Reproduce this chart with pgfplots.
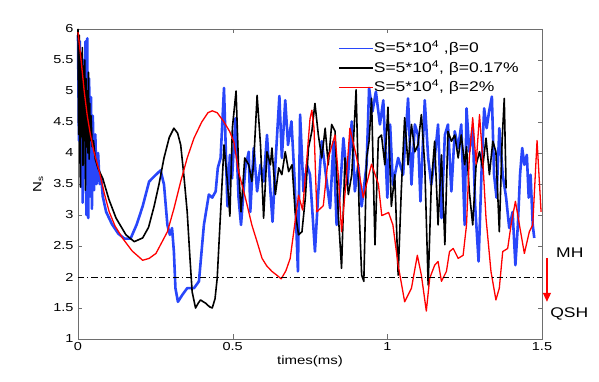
\documentclass[border=0pt]{standalone}
\usepackage{fontspec}
\setmainfont{Liberation Sans}[FakeStretch=1.25]
\usepackage{pgfplots}
\pgfplotsset{compat=1.18}
\usetikzlibrary{arrows.meta}
\definecolor{mblue}{RGB}{40,70,250}
\definecolor{mred}{RGB}{255,0,0}
\definecolor{axgray}{RGB}{110,110,110}
\begin{document}
\begin{tikzpicture}
\begin{axis}[
  name=ax,
  scale only axis, width=464pt, height=310pt,
  xmin=0, xmax=1.5, ymin=1, ymax=6,
  xtick={0,0.5,1,1.5}, ytick={1,1.5,...,6},
  tick align=inside, major tick length=4.5pt,
  axis line style={axgray}, tick style={axgray},
  /pgf/number format/assume math mode=true,
  tick label style={font=\fontsize{11.6}{13}\selectfont},
  yticklabel style={xshift=-1pt},
  xlabel={times(ms)}, ylabel={N\textsubscript{s}},
  label style={font=\fontsize{12}{13}\selectfont},
  xlabel style={at={(axis description cs:0.5,-0.072)}, anchor=center},
  ylabel style={at={(axis description cs:-0.086,0.5)}, anchor=center},
  legend style={at={(axis cs:0.841,5.81)}, anchor=north west, draw=none, fill=none,
    font=\fontsize{14}{15}\selectfont, inner sep=0pt, row sep=3.8pt,
    nodes={inner sep=0pt, text height=12pt, text depth=3.5pt},
    /tikz/every even column/.append style={column sep=6pt}},
  legend cell align=left,
  legend image code/.code={\draw[#1, line width=1.5pt] (0pt,0pt) -- (34pt,0pt);},
  clip=false,
]
\addplot[mblue, line width=2.6pt, line join=round] coordinates {
(0,5.9)(0.003,4.2)(0.006,5.8)(0.009,4.0)(0.012,5.6)(0.015,3.2)(0.018,5.5)(0.021,3.6)(0.024,5.8)(0.027,3.0)(0.030,5.85)(0.033,2.95)(0.036,5.2)(0.039,3.3)(0.042,4.9)(0.045,3.1)(0.048,4.6)(0.052,3.4)(0.056,4.3)(0.060,3.5)(0.065,4.0)(0.070,3.5)(0.075,3.6)(0.080,3.3)(0.091,3.05)(0.11,2.85)(0.13,2.7)(0.15,2.62)(0.17,2.62)(0.19,2.85)(0.209,3.14)(0.230,3.54)(0.252,3.65)(0.267,3.72)(0.278,3.49)(0.289,2.84)(0.297,2.68)(0.304,2.79)(0.310,2.41)(0.315,1.82)(0.323,1.60)(0.337,1.71)(0.353,1.82)(0.375,1.82)(0.391,1.93)(0.407,2.84)(0.423,3.33)(0.434,3.28)(0.445,3.38)(0.452,3.76)(0.461,3.92)(0.472,5.05)(0.477,4.19)(0.483,3.14)(0.491,3.97)(0.498,3.59)(0.509,4.56)(0.519,3.28)(0.527,2.84)(0.541,3.76)(0.552,4.02)(0.557,3.05)(0.568,4.08)(0.579,3.38)(0.590,3.81)(0.600,3.54)(0.611,4.29)(0.622,3.38)(0.629,2.89)(0.638,3.81)(0.651,4.92)(0.659,3.92)(0.670,4.85)(0.679,4.13)(0.690,4.51)(0.700,3.59)(0.711,2.09)(0.718,4.62)(0.729,3.38)(0.740,3.81)(0.750,3.65)(0.766,2.41)(0.777,3.38)(0.788,4.19)(0.804,3.54)(0.815,3.11)(0.826,4.19)(0.836,2.84)(0.847,3.38)(0.858,4.24)(0.871,3.49)(0.885,4.51)(0.895,3.38)(0.906,3.81)(0.917,3.14)(0.933,3.81)(0.941,5.05)(0.952,4.67)(0.963,4.99)(0.976,4.46)(0.987,4.85)(1.000,3.28)(1.009,4.46)(1.018,3.49)(1.035,3.92)(1.051,3.65)(1.067,4.88)(1.078,3.49)(1.089,4.46)(1.099,4.29)(1.107,3.22)(1.121,4.85)(1.132,3.92)(1.142,3.49)(1.153,3.92)(1.164,4.46)(1.175,2.95)(1.186,4.29)(1.196,4.46)(1.207,3.38)(1.218,4.35)(1.229,4.08)(1.239,4.46)(1.250,2.84)(1.256,4.72)(1.265,4.02)(1.276,4.40)(1.284,3.14)(1.295,2.25)(1.306,3.92)(1.313,4.72)(1.321,4.40)(1.329,4.67)(1.338,4.91)(1.345,3.65)(1.353,3.28)(1.362,4.40)(1.373,3.65)(1.384,3.28)(1.394,2.79)(1.405,3.05)(1.414,2.19)(1.422,2.84)(1.429,3.65)(1.436,4.08)(1.443,3.81)(1.451,3.97)(1.457,3.28)(1.463,3.65)(1.470,2.84)(1.475,2.63)
};
\addlegendentry{S=5*10\textsuperscript{4} ,β=0}
\addplot[black, line width=1.6pt, line join=round] coordinates {
(0,6.0)(0.002,4.3)(0.004,5.9)(0.006,4.0)(0.008,3.45)(0.010,5.6)(0.012,4.4)(0.014,5.7)(0.016,3.8)(0.018,5.4)(0.020,4.2)(0.022,5.5)(0.024,3.4)(0.026,5.2)(0.028,4.1)(0.030,5.0)(0.032,4.0)(0.034,5.3)(0.036,3.9)(0.038,4.8)(0.040,4.2)(0.042,4.6)(0.046,4.1)(0.050,4.2)(0.056,3.9)(0.065,3.75)(0.080,3.59)(0.10,3.25)(0.123,2.95)(0.155,2.68)(0.182,2.57)(0.209,2.63)(0.228,2.8)(0.246,3.14)(0.262,3.5)(0.278,3.92)(0.295,4.25)(0.310,4.40)(0.322,4.32)(0.332,4.13)(0.343,3.6)(0.353,3.05)(0.362,2.3)(0.369,1.76)(0.380,1.50)(0.389,1.58)(0.396,1.63)(0.405,1.60)(0.412,1.58)(0.425,1.52)(0.434,1.50)(0.443,1.65)(0.450,1.98)(0.461,3.05)(0.472,4.13)(0.483,3.54)(0.491,2.98)(0.499,4.40)(0.511,5.00)(0.519,3.79)(0.527,3.05)(0.539,3.92)(0.552,3.81)(0.562,3.54)(0.568,3.86)(0.579,4.93)(0.590,4.13)(0.600,2.95)(0.611,4.02)(0.622,3.81)(0.627,4.08)(0.638,3.33)(0.649,3.76)(0.659,3.65)(0.670,4.02)(0.681,3.70)(0.692,3.81)(0.702,3.05)(0.713,2.68)(0.724,2.73)(0.735,3.28)(0.745,4.08)(0.756,4.35)(0.766,4.80)(0.777,4.29)(0.788,3.92)(0.799,4.40)(0.809,3.81)(0.820,4.46)(0.831,4.35)(0.841,3.05)(0.852,2.14)(0.863,3.92)(0.874,3.33)(0.885,3.65)(0.899,5.02)(0.909,3.05)(0.917,2.03)(0.924,1.93)(0.933,3.92)(0.941,4.19)(0.949,4.88)(0.960,2.52)(0.971,4.24)(0.981,4.29)(0.992,3.81)(1.002,4.74)(1.013,3.14)(1.024,3.65)(1.035,2.03)(1.045,3.38)(1.056,4.57)(1.067,3.81)(1.078,4.46)(1.089,4.02)(1.099,4.13)(1.110,4.62)(1.121,3.81)(1.132,1.87)(1.142,3.49)(1.153,4.19)(1.164,2.84)(1.175,3.97)(1.186,2.52)(1.196,4.35)(1.207,4.19)(1.218,4.29)(1.229,3.92)(1.239,4.29)(1.250,3.81)(1.256,4.1)(1.265,3.38)(1.276,2.84)(1.287,3.81)(1.298,4.02)(1.308,3.76)(1.319,4.24)(1.330,3.65)(1.341,4.19)(1.351,4.02)(1.362,2.73)(1.371,4.19)(1.378,4.88)(1.384,3.43)
};
\addlegendentry{S=5*10\textsuperscript{4}, β=0.17\%}
\addplot[mred, line width=1.3pt, line join=round] coordinates {
(0,5.95)(0.01,5.5)(0.02,5.0)(0.03,4.6)(0.04,4.3)(0.05,4.05)(0.069,3.70)(0.085,3.35)(0.101,3.05)(0.12,2.82)(0.145,2.62)(0.175,2.42)(0.209,2.27)(0.230,2.30)(0.252,2.38)(0.270,2.55)(0.289,2.73)(0.310,3.1)(0.332,3.54)(0.353,3.92)(0.375,4.24)(0.400,4.5)(0.420,4.65)(0.434,4.68)(0.450,4.65)(0.472,4.50)(0.490,4.35)(0.504,4.18)(0.519,3.70)(0.541,3.28)(0.562,2.84)(0.580,2.55)(0.595,2.30)(0.610,2.18)(0.627,2.09)(0.645,2.02)(0.657,1.97)(0.672,2.1)(0.686,2.30)(0.702,2.90)(0.713,3.32)(0.726,3.08)(0.740,3.92)(0.750,4.55)(0.756,4.69)(0.763,4.4)(0.772,3.05)(0.793,3.15)(0.809,3.92)(0.831,4.29)(0.842,3.6)(0.852,2.73)(0.866,3.5)(0.879,4.40)(0.901,3.92)(0.922,3.28)(0.949,3.82)(0.971,3.50)(0.982,2.99)(1.004,3.04)(1.018,2.84)(1.035,2.19)(1.056,1.60)(1.078,1.82)(1.097,2.35)(1.110,2.03)(1.126,1.45)(1.137,1.98)(1.153,2.19)(1.164,2.25)(1.175,1.93)(1.191,2.09)(1.201,2.41)(1.213,2.46)(1.229,2.30)(1.245,2.35)(1.256,2.84)(1.265,3.92)(1.276,4.57)(1.287,3.82)(1.298,4.62)(1.308,3.92)(1.319,2.95)(1.335,2.09)(1.351,1.63)(1.362,1.82)(1.373,2.41)(1.389,2.46)(1.400,2.84)(1.414,3.22)(1.427,2.84)(1.443,2.38)(1.459,2.73)(1.470,2.84)(1.484,4.20)(1.497,3.05)
};
\addlegendentry{S=5*10\textsuperscript{4}, β=2\%}
% threshold line
\addplot[black, line width=0.6pt, dash pattern=on 6pt off 3pt on 1.5pt off 3pt, forget plot] coordinates {(0,2) (1.5,2)};
\node[font=\fontsize{14}{15}\selectfont, anchor=center] at (axis cs:1.59,2.40) {MH};
\node[font=\fontsize{14}{15}\selectfont, anchor=center] at (axis cs:1.588,1.40) {QSH};
\draw[mred, line width=1.4pt, -{Triangle[length=9pt,width=8pt]}] (axis cs:1.516,2.31) -- (axis cs:1.516,1.60);
\end{axis}
\path[use as bounding box] ([shift={(-78pt,-43pt)}]ax.south west) rectangle ([shift={(57pt,29pt)}]ax.north east);
\end{tikzpicture}
\end{document}
